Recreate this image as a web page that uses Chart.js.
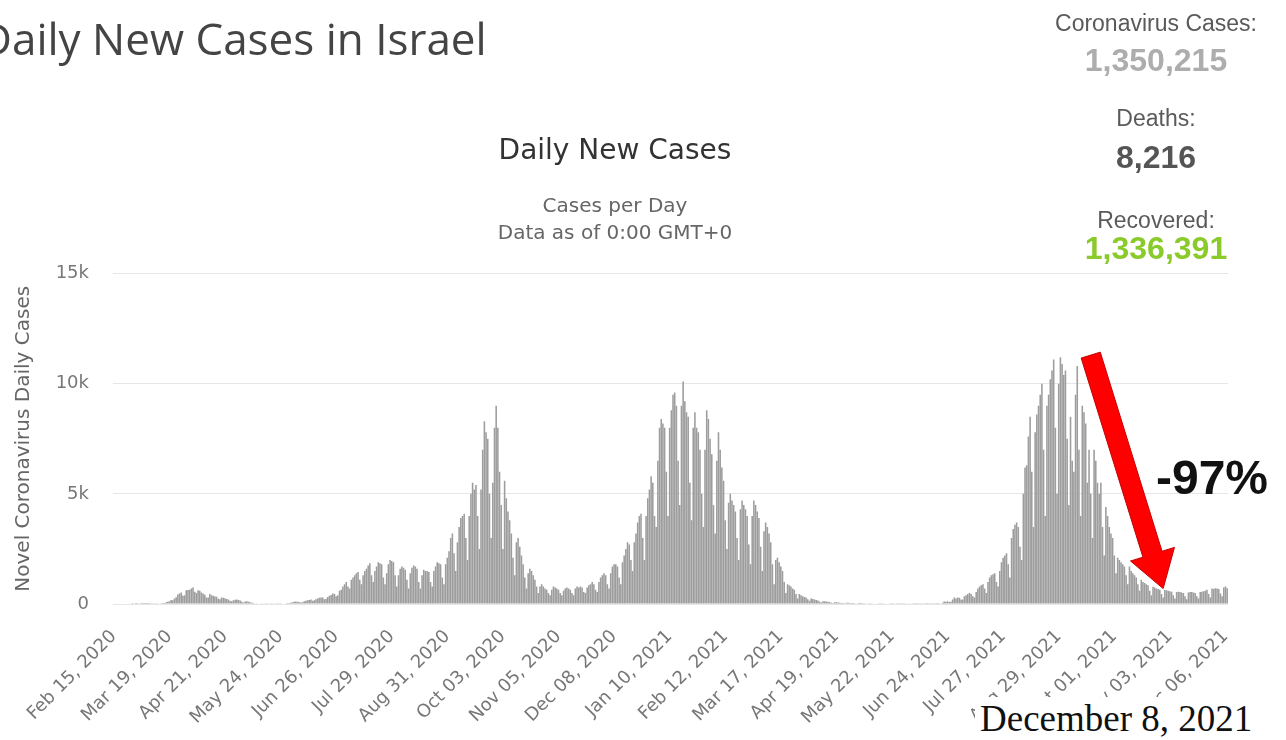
<!DOCTYPE html>
<html>
<head>
<meta charset="utf-8">
<script src="https://cdn.jsdelivr.net/npm/chart.js@4.4.1/dist/chart.umd.min.js"></script>
<style>
  body { margin: 0; width: 1286px; height: 740px; overflow: hidden; background: #fff; position: relative; }
  #chart-box { position: absolute; left: 0; top: 0; width: 1286px; height: 740px; }
  #page-title { position: absolute; left: -20px; top: 15px; font-family: "Open Sans", sans-serif; font-size: 44px; line-height: 46px; color: #444; white-space: nowrap; }
  .stat { position: absolute; left: 1036px; width: 240px; height: 36px; line-height: 36px; text-align: center; font-family: "Liberation Sans", Arial, sans-serif; white-space: nowrap; }
  .stat.lbl { font-size: 23px; color: #5a5a5a; }
  .stat.num { font-size: 32px; font-weight: bold; }
  #date-note { position: absolute; left: 975px; top: 697px; width: 311px; height: 43px; line-height: 43px; background: #fff; font-family: "Liberation Serif", serif; font-size: 37px; color: #111; padding-left: 5px; box-sizing: border-box; white-space: nowrap; }
</style>
</head>
<body>
<div id="chart-box"><canvas id="cases-chart" width="1286" height="740"></canvas></div>
<div id="page-title">Daily New Cases in Israel</div>
<div class="stat lbl" style="top:5px">Coronavirus Cases:</div>
<div class="stat num" style="top:42px;color:#adadad">1,350,215</div>
<div class="stat lbl" style="top:100px">Deaths:</div>
<div class="stat num" style="top:139px;color:#555">8,216</div>
<div class="stat lbl" style="top:202px">Recovered:</div>
<div class="stat num" style="top:230px;color:#8aca2b">1,336,391</div>
<div id="date-note">December 8, 2021</div>
<script>
// Tägliche Fälle ab 15. Feb 2020, eine Zeile = eine Woche (Sa..Fr)
const dailyCases = [
  0, 0, 0, 0, 0, 0, 0,
  0, 0, 0, 0, 1, 0, 1,
  1, 0, 3, 2, 3, 4, 4,
  2, 12, 9, 14, 33, 17, 21,
  33, 45, 50, 80, 104, 129, 180,
  170, 250, 310, 430, 480, 520, 380,
  400, 620, 640, 650, 700, 750, 560,
  500, 620, 600, 520, 480, 420, 300,
  290, 450, 400, 380, 340, 330, 240,
  210, 300, 280, 260, 230, 200, 150,
  120, 170, 190, 200, 180, 160, 100,
  70, 110, 120, 100, 80, 60, 40,
  20, 30, 25, 20, 15, 20, 10,
  10, 20, 30, 15, 20, 15, 10,
  10, 15, 20, 20, 25, 40, 50,
  60, 80, 100, 110, 100, 90, 70,
  80, 130, 150, 170, 180, 200, 150,
  170, 220, 250, 280, 300, 290, 220,
  240, 320, 380, 410, 480, 450, 350,
  400, 600, 650, 800, 900, 1000, 800,
  700, 1100, 1200, 1300, 1400, 1450, 1100,
  900, 1300, 1500, 1600, 1750, 1850, 1300,
  1000, 1500, 1700, 1900, 1850, 1800, 1200,
  900, 1400, 1800, 2000, 1950, 1900, 1300,
  800, 1300, 1600, 1700, 1650, 1550, 1100,
  700, 1400, 1650, 1750, 1700, 1600, 1000,
  700, 1300, 1550, 1500, 1500, 1450, 1000,
  800, 1500, 1700, 1900, 1850, 1800, 1200,
  900, 1800, 2100, 2400, 3000, 3200, 2300,
  1500, 2800, 3500, 3900, 4000, 4100, 3000,
  2000, 4000, 5000, 5500, 5200, 5400, 4000,
  2500, 5200, 7000, 8300, 7800, 7500, 5000,
  3000, 5500, 8000, 9000, 8000, 6000, 4500,
  2500, 5600, 4800, 4200, 3800, 3200, 2100,
  1300, 2800, 3000, 2600, 2200, 1800, 1200,
  700, 1400, 1600, 1500, 1300, 1100, 800,
  500, 800, 900, 800, 700, 650, 500,
  400, 650, 800, 750, 700, 650, 500,
  400, 600, 700, 750, 700, 650, 500,
  400, 700, 800, 750, 800, 750, 550,
  500, 750, 850, 900, 1000, 900, 650,
  550, 1000, 1200, 1300, 1400, 1300, 900,
  700, 1400, 1700, 1800, 1800, 1700, 1200,
  900, 1900, 2200, 2500, 2800, 2700, 2000,
  1500, 2800, 3200, 3700, 4000, 4100, 3000,
  2000, 4000, 4800, 5200, 5800, 5500, 4000,
  3500, 6500, 8000, 8400, 8200, 8000, 6000,
  4000, 8000, 8800, 9500, 9600, 9000, 6500,
  4500, 9000, 10100, 9200, 8700, 8500, 5500,
  3800, 8000, 8700, 8000, 7800, 7000, 5000,
  3500, 7000, 8800, 8400, 7500, 6800, 4500,
  3200, 6500, 7800, 7000, 6200, 5600, 3800,
  2500, 4600, 5000, 4700, 4500, 4200, 3000,
  2000, 4300, 4700, 4500, 4300, 4000, 2700,
  1800, 4000, 4700, 4500, 4200, 3900, 2600,
  1500, 3300, 3700, 3500, 3200, 2800, 1800,
  900, 2000, 2100, 1900, 1700, 1500, 1000,
  500, 900, 850, 800, 700, 650, 450,
  250, 450, 400, 350, 320, 300, 220,
  150, 250, 230, 200, 180, 160, 110,
  70, 130, 120, 110, 100, 90, 60,
  40, 80, 80, 70, 60, 50, 40,
  30, 60, 55, 50, 45, 40, 30,
  20, 40, 45, 40, 35, 30, 20,
  15, 30, 30, 25, 20, 20, 15,
  15, 30, 30, 25, 20, 20, 10,
  10, 15, 20, 15, 15, 10, 10,
  10, 15, 20, 15, 20, 10, 10,
  5, 10, 15, 10, 10, 15, 10,
  5, 10, 10, 15, 10, 10, 5,
  10, 20, 60, 110, 100, 130, 90,
  100, 200, 300, 250, 300, 280, 200,
  200, 350, 400, 450, 500, 450, 350,
  300, 550, 700, 800, 850, 900, 700,
  500, 1000, 1200, 1300, 1350, 1400, 1000,
  800, 1500, 1900, 2100, 2200, 2300, 1800,
  1200, 3000, 3400, 3600, 3700, 3500, 2600,
  2000, 5000, 6200, 6300, 7600, 8500, 6000,
  3500, 7800, 8600, 9000, 9500, 10000, 7000,
  4000, 9000, 9500, 10200, 10600, 11100, 8000,
  5000, 10000, 11200, 10900, 10400, 10600, 7500,
  4500, 8500, 6500, 6000, 9500, 10800, 7000,
  4000, 9000, 8700, 8200, 5500, 7000, 5000,
  3000, 7000, 6500, 5500, 5000, 5500, 3500,
  2200, 4400, 4000, 3500, 3200, 3000, 2200,
  1400, 2100, 2000, 1900, 1800, 1700, 1300,
  900, 1700, 1500, 1400, 1300, 1200, 900,
  600, 1100, 1000, 950, 900, 850, 600,
  400, 780, 750, 700, 680, 650, 450,
  300, 640, 620, 600, 580, 560, 400,
  250, 550, 560, 540, 520, 500, 350,
  220, 520, 550, 540, 520, 500, 350,
  250, 550, 560, 580, 600, 650, 450,
  300, 700, 680, 720, 700, 680, 480,
  350, 750, 800, 720
];

const tickLabels = [
  'Feb 15, 2020', 'Mar 19, 2020', 'Apr 21, 2020', 'May 24, 2020', 'Jun 26, 2020',
  'Jul 29, 2020', 'Aug 31, 2020', 'Oct 03, 2020', 'Nov 05, 2020', 'Dec 08, 2020',
  'Jan 10, 2021', 'Feb 12, 2021', 'Mar 17, 2021', 'Apr 19, 2021', 'May 22, 2021',
  'Jun 24, 2021', 'Jul 27, 2021', 'Aug 29, 2021', 'Oct 01, 2021', 'Nov 03, 2021',
  'Dec 06, 2021'
];

const yTicks = [0, 5000, 10000, 15000];

// Pfeil: [Tag-Index, Fälle]
const arrowFrom = [580, 11300];
const arrowTo = [623, 700];
const dropLabel = { text: '-97%', at: [652, 5600] };

const monthNames = ['Jan', 'Feb', 'Mar', 'Apr', 'May', 'Jun', 'Jul', 'Aug', 'Sep', 'Oct', 'Nov', 'Dec'];
const start = Date.UTC(2020, 1, 15);
const dayLabels = dailyCases.map((v, i) => {
  const d = new Date(start + i * 86400000);
  return monthNames[d.getUTCMonth()] + ' ' + String(d.getUTCDate()).padStart(2, '0') + ', ' + d.getUTCFullYear();
});

const arrowPlugin = {
  id: 'dropArrow',
  afterDatasetsDraw(chart) {
    const { ctx, scales: { x, y } } = chart;
    const x1 = x.getPixelForValue(arrowFrom[0]), y1 = y.getPixelForValue(arrowFrom[1]);
    const x2 = x.getPixelForValue(arrowTo[0]), y2 = y.getPixelForValue(arrowTo[1]);
    const len = Math.hypot(x2 - x1, y2 - y1);
    const ux = (x2 - x1) / len, uy = (y2 - y1) / len;
    const nx = -uy, ny = ux;
    const w = 10, hw = 23, hl = 36;
    const bx = x2 - ux * hl, by = y2 - uy * hl;
    ctx.save();
    ctx.beginPath();
    ctx.moveTo(x1 + nx * w, y1 + ny * w);
    ctx.lineTo(bx + nx * w, by + ny * w);
    ctx.lineTo(bx + nx * hw, by + ny * hw);
    ctx.lineTo(x2, y2);
    ctx.lineTo(bx - nx * hw, by - ny * hw);
    ctx.lineTo(bx - nx * w, by - ny * w);
    ctx.lineTo(x1 - nx * w, y1 - ny * w);
    ctx.closePath();
    ctx.fillStyle = '#ff0000';
    ctx.fill();
    ctx.strokeStyle = '#c40000';
    ctx.lineWidth = 1;
    ctx.stroke();

    ctx.font = 'bold 48px "Liberation Sans", Arial, sans-serif';
    ctx.fillStyle = '#111';
    ctx.textAlign = 'center';
    ctx.textBaseline = 'middle';
    ctx.fillText(dropLabel.text, x.getPixelForValue(dropLabel.at[0]), y.getPixelForValue(dropLabel.at[1]));
    ctx.restore();
  }
};

const ctx = document.getElementById('cases-chart').getContext('2d');
const casesChart = new Chart(ctx, {
  type: 'bar',
  data: {
    labels: dayLabels,
    datasets: [{
      label: 'Daily Cases',
      data: dailyCases,
      backgroundColor: '#9d9d9d',
      borderWidth: 0,
      barPercentage: 1,
      categoryPercentage: 0.93
    }]
  },
  options: {
    responsive: false,
    animation: false,
    events: [],
    layout: { padding: { left: 2, right: 58, top: 125, bottom: 0 } },
    plugins: {
      legend: { display: false },
      tooltip: { enabled: false },
      title: {
        display: true,
        text: 'Daily New Cases',
        color: '#333',
        font: { family: 'DejaVu Sans', size: 28, weight: 'normal', lineHeight: 1.2 },
        padding: { top: 10, bottom: 25 }
      },
      subtitle: {
        display: true,
        text: ['Cases per Day', 'Data as of 0:00 GMT+0'],
        color: '#666',
        font: { family: 'DejaVu Sans', size: 20, lineHeight: 1.35 },
        padding: { top: 0, bottom: 26 }
      }
    },
    scales: {
      x: {
        grid: { display: false },
        border: { display: false },
        ticks: {
          autoSkip: false,
          minRotation: 45,
          maxRotation: 45,
          padding: 14,
          color: '#777',
          font: { family: 'DejaVu Sans', size: 18 },
          callback(val, i) {
            const lbl = dayLabels[i];
            return tickLabels.includes(lbl) ? lbl : '';
          }
        },
        afterFit(scale) { scale.height = 136; }
      },
      y: {
        min: 0,
        max: 15000,
        afterBuildTicks(scale) { scale.ticks = yTicks.map(v => ({ value: v })); },
        grid: { color: '#e6e6e6', drawTicks: false, tickLength: 0 },
        border: { display: false },
        ticks: {
          padding: 24,
          color: '#777',
          font: { family: 'DejaVu Sans', size: 18 },
          callback(v) { return v === 0 ? '0' : (v / 1000) + 'k'; }
        },
        title: {
          display: true,
          text: 'Novel Coronavirus Daily Cases',
          color: '#666',
          font: { family: 'DejaVu Sans', size: 20 },
          padding: { top: 10, bottom: 0 }
        },
        afterFit(scale) { scale.width = 111; }
      }
    }
  },
  plugins: [arrowPlugin]
});
</script>
</body>
</html>
